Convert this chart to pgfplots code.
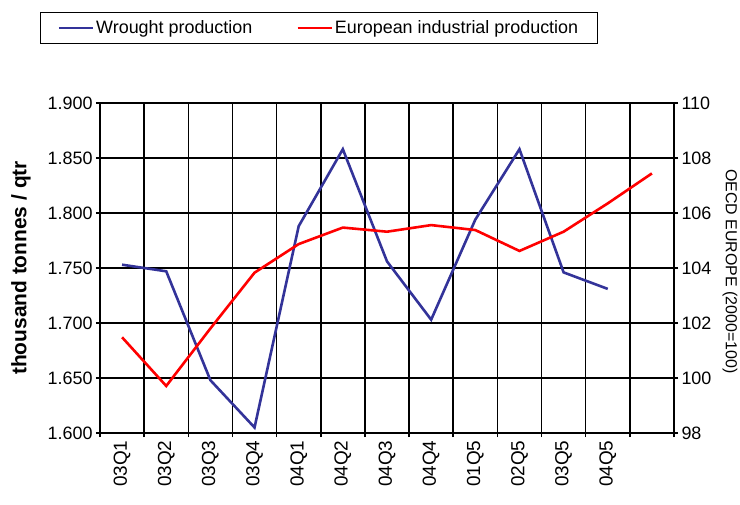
\documentclass[border=0pt]{standalone}
\usepackage{fontspec}
\setmainfont{Liberation Sans}
\usepackage{pgfplots}
\pgfplotsset{compat=1.18}
\definecolor{wblue}{RGB}{51,51,153}
\begin{document}
\begin{tikzpicture}
\pgfplotsset{
  common/.style={
    at={(0,0)}, anchor=south west,
    scale only axis, width=574bp, height=330bp,
    xmin=0.5, xmax=13.5,
    major tick length=8bp,
    minor tick length=8bp,
    tick align=center,
    tick style={black, line width=1.5bp},
    axis line style={black, line width=1.5bp},
    tick label style={font=\fontsize{18}{20}\selectfont},
    /pgf/number format/assume math mode=true,
  }
}
\begin{axis}[common,
  ymin=1.6, ymax=1.9,
  ytick={1.6,1.65,1.7,1.75,1.8,1.85,1.9},
  yticklabel style={/pgf/number format/.cd, fixed, fixed zerofill, precision=3},
  xtick={1,2,3,4,5,6,7,8,9,10,11,12},
  xticklabels={03Q1,03Q2,03Q3,03Q4,04Q1,04Q2,04Q3,04Q4,01Q5,02Q5,03Q5,04Q5},
  xticklabel style={rotate=90, anchor=east, font=\fontsize{19}{20}\selectfont},
  major x tick style={draw=none},
  minor xtick={0.5,1.5,2.5,3.5,4.5,5.5,6.5,7.5,8.5,9.5,10.5,11.5,12.5,13.5},
  xminorgrids, ymajorgrids,
  grid style={black, line width=1.5bp},
  minor grid style={black, line width=1.5bp},
  ytick pos=left, xtick pos=bottom,
  ylabel={\bfseries thousand tonnes / qtr},
  ylabel style={at={(axis description cs:-0.1376,0.5)}, anchor=center, font=\fontsize{21}{22}\selectfont},
  legend columns=2,
  legend style={at={(axis description cs:-0.1045,1.2273)}, anchor=west, draw=black, line width=1.2bp,
    font=\fontsize{18}{20}\selectfont, inner xsep=17bp, inner ysep=6bp,
    /tikz/every even column/.append style={column sep=42bp}},
  legend image code/.code={\draw[#1] (0bp,0bp) -- (34bp,0bp);},
]
\addplot[wblue, line width=2.6bp] coordinates {
(1,1.753) (2,1.747) (3,1.648) (4,1.605) (5,1.788) (6,1.858)
(7,1.756) (8,1.703) (9,1.794) (10,1.858) (11,1.746) (12,1.731)};
\addlegendentry{Wrought production}
\addlegendimage{red, line width=2.6bp}
\addlegendentry{European industrial production}
\end{axis}
\begin{axis}[common,
  ymin=98, ymax=110,
  ytick={98,100,102,104,106,108,110},
  axis x line=none, axis y line*=right,
  ylabel={OECD EUROPE (2000=100)},
  ylabel style={at={(axis description cs:1.0976,0.49)}, anchor=center, rotate=180, font=\fontsize{16}{18}\selectfont},
]
\addplot[red, line width=2.6bp] coordinates {
(1,101.48) (2,99.71) (3,101.8) (4,103.83) (5,104.87) (6,105.47) (7,105.32)
(8,105.56) (9,105.38) (10,104.62) (11,105.32) (12,106.35) (13,107.44)};
\end{axis}
\pgfresetboundingbox
\path (-100bp,-72bp) rectangle (640bp,433bp);
\end{tikzpicture}
\end{document}
